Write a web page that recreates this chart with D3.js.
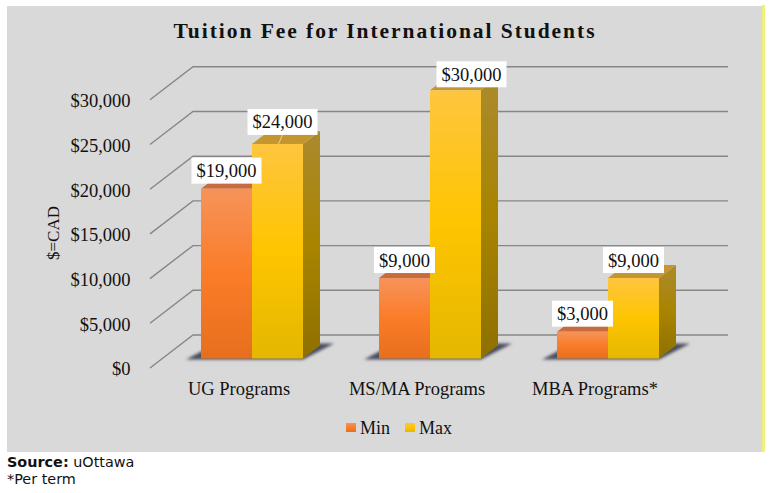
<!DOCTYPE html>
<html>
<head>
<meta charset="utf-8">
<script src="https://cdn.jsdelivr.net/npm/d3@7"></script>
<style>
    html, body { margin: 0; padding: 0; background: white; }
    svg { display: block; }
    text { font-family: "Liberation Serif", serif; fill: #111; }
</style>
</head>
<body>
<div id="chart"></div>
<script>
// Chart values
const categories = ['UG Programs', 'MS/MA Programs', 'MBA Programs*'];
const seriesNames = ['Min', 'Max'];
const minValues = [19000, 9000, 3000];
const maxValues = [24000, 30000, 9000];
const yTicks = [0, 5000, 10000, 15000, 20000, 25000, 30000];

// Hand-moved data labels in the original, [series][category] => [dx, dy]
const labelNudges = [
    [[0, 0], [0, 0], [0, 0]],
    [[5, -4], [16, 2], [0, 0]]
];

const width = 772, height = 493;
const wall = { dx: 43, dy: 33 };   // depth of the whole floor
const inset = { dx: 13, dy: 9.5 }; // where the bars stand on it
const depth = { dx: 17, dy: 13 };  // depth of one bar

const svg = d3.select('#chart').append('svg')
    .attr('width', width)
    .attr('height', height);

const defs = svg.append('defs');

function frontGradient(id, stops) {
    const g = defs.append('linearGradient').attr('id', id)
        .attr('x1', 0).attr('y1', 0).attr('x2', 0).attr('y2', 1);
    stops.forEach(s => g.append('stop').attr('offset', s[0]).attr('stop-color', s[1]));
}
frontGradient('front-Min', [[0, '#f6935a'], [0.5, '#fb7c28'], [1, '#e66f1e']]);
frontGradient('front-Max', [[0, '#fec540'], [0.5, '#fec500'], [1, '#e4b700']]);
frontGradient('side-Max', [[0, '#ab8a2e'], [0.5, '#a88400'], [1, '#8f7000']]);
defs.append('filter').attr('id', 'blur')
    .attr('x', '-20%').attr('y', '-50%').attr('width', '140%').attr('height', '200%')
    .append('feGaussianBlur').attr('stdDeviation', 1.8);

const topColor = { Min: '#c76c40', Max: '#c3962f' };

svg.append('rect')
    .attr('x', 7).attr('y', 6)
    .attr('width', 755).attr('height', 446)
    .attr('fill', '#d9d9d9');
svg.append('rect')
    .attr('x', 762).attr('y', 5)
    .attr('width', 3).attr('height', 447)
    .attr('fill', '#eef07a');

const x = d3.scaleBand().domain(categories).range([150, 684]);
const y = d3.scaleLinear().domain([0, 30000]).range([368, 99.8]);
const xInner = d3.scaleBand().domain(seriesNames).range([-51, 51]);

// Gridlines on wall and floor
const grid = svg.append('g').attr('fill', 'none').attr('stroke', '#878787').attr('stroke-width', 1.4);
grid.selectAll('path')
    .data(yTicks)
    .enter()
    .append('path')
        .attr('d', d => d3.line()([
            [x.range()[0], y(d)],
            [x.range()[0] + wall.dx, y(d) - wall.dy],
            [728, y(d) - wall.dy]
        ]));

// Axes, only the labels are visible
const yAxis = svg.append('g')
    .attr('transform', 'translate(130.5,1)')
    .call(d3.axisLeft(y).tickValues(yTicks).tickSize(0).tickPadding(0).tickFormat(d3.format('$,')));
const xAxis = svg.append('g')
    .attr('transform', 'translate(0,382)')
    .call(d3.axisBottom(x).tickSize(0).tickPadding(0));
yAxis.select('.domain').remove();
xAxis.select('.domain').remove();
svg.selectAll('.tick text')
    .style('font-family', '"Liberation Serif", serif')
    .style('font-size', '18.5px')
    .attr('fill', '#111');

// Bars
const bars = [];
categories.forEach((c, i) => {
    const centre = x(c) + x.bandwidth() / 2 + inset.dx;
    seriesNames.forEach((s, k) => {
        const value = (k === 0 ? minValues : maxValues)[i];
        bars.push({
            cat: i, ser: k, name: s, value: value,
            x0: centre + xInner(s),
            x1: centre + xInner(s) + xInner.bandwidth(),
            top: y(value) - inset.dy,
            bottom: y(0) - inset.dy
        });
    });
});

const line = d3.line();

// Floor shadows behind each pair of bars
const shadows = svg.append('g').attr('filter', 'url(#blur)').attr('fill', '#4a4e5e');
categories.forEach((c, i) => {
    const pair = bars.filter(b => b.cat === i);
    const l = pair[0].x0, r = pair[1].x1, b = pair[0].bottom;
    shadows.append('path').attr('d', line([
        [l - 15, b + 1], [r, b + 1], [r + 31, b - 15], [r + 8, b - 15], [l + 4, b - 9]
    ]) + 'Z');
});

const barGroups = svg.selectAll('g.bar')
    .data(bars)
    .enter()
    .append('g')
        .attr('class', 'bar');

barGroups.append('path')
    .attr('fill', 'url(#side-Max)')
    .attr('d', d => line([
        [d.x1, d.top], [d.x1 + depth.dx, d.top - depth.dy],
        [d.x1 + depth.dx, d.bottom - depth.dy], [d.x1, d.bottom]
    ]) + 'Z');
barGroups.append('path')
    .attr('fill', d => topColor[d.name])
    .attr('d', d => line([
        [d.x0, d.top], [d.x0 + depth.dx, d.top - depth.dy],
        [d.x1 + depth.dx, d.top - depth.dy], [d.x1, d.top]
    ]) + 'Z');
barGroups.append('rect')
    .attr('x', d => d.x0)
    .attr('y', d => d.top)
    .attr('width', d => d.x1 - d.x0)
    .attr('height', d => d.bottom - d.top)
    .attr('fill', d => `url(#front-${d.name})`);

// Data labels
const labels = svg.selectAll('g.label')
    .data(bars)
    .enter()
    .append('g')
        .attr('class', 'label')
        .attr('transform', d => {
            const n = labelNudges[d.ser][d.cat];
            return `translate(${(d.x0 + d.x1) / 2 + n[0]},${d.top - 18 + n[1]})`;
        });
labels.filter(d => d.ser === 1 && d.cat === 0)
    .append('line')
        .attr('x1', 0).attr('y1', 13)
        .attr('x2', -4).attr('y2', 22)
        .attr('stroke', '#e6d5a0');
labels.append('rect')
    .attr('x', d => d.value >= 10000 ? -35 : -30.5)
    .attr('y', -13)
    .attr('width', d => d.value >= 10000 ? 70 : 61)
    .attr('height', 26)
    .attr('fill', 'white');
labels.append('text')
    .attr('text-anchor', 'middle')
    .attr('y', 6.5)
    .style('font-size', '18.5px')
    .text(d => d3.format('$,')(d.value));

// Title and axis title
svg.append('text')
    .attr('x', 385).attr('y', 37.5)
    .attr('text-anchor', 'middle')
    .style('font-size', '21.5px')
    .style('font-weight', 'bold')
    .style('letter-spacing', '1.95px')
    .text('Tuition Fee for International Students');
svg.append('text')
    .attr('transform', 'translate(59,233) rotate(-90)')
    .attr('text-anchor', 'middle')
    .style('font-size', '17px')
    .text('$=CAD');

// Legend
const legendX = d3.scaleOrdinal().domain(seriesNames).range([346, 405]);
const legend = svg.selectAll('g.legend')
    .data(seriesNames)
    .enter()
    .append('g')
        .attr('class', 'legend')
        .attr('transform', d => `translate(${legendX(d)},423)`);
legend.append('rect')
    .attr('width', 10).attr('height', 9)
    .attr('fill', d => `url(#front-${d})`);
legend.append('text')
    .attr('x', 14).attr('y', 11)
    .style('font-size', '18px')
    .text(d => d);

// Footer notes
const source = svg.append('text')
    .attr('x', 7).attr('y', 467)
    .style('font-family', '"DejaVu Sans", sans-serif')
    .style('font-size', '14.4px')
    .style('fill', '#111');
source.append('tspan').style('font-weight', 'bold').text('Source:');
source.append('tspan').text(' uOttawa');
svg.append('text')
    .attr('x', 7).attr('y', 484)
    .style('font-family', '"DejaVu Sans", sans-serif')
    .style('font-size', '14.4px')
    .style('fill', '#111')
    .text('*Per term');
</script>
</body>
</html>
